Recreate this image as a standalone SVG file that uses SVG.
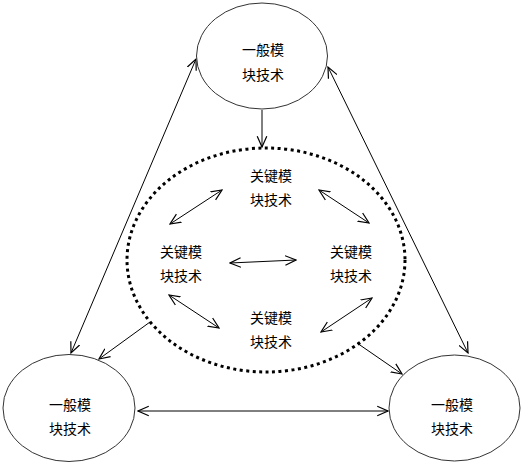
<svg xmlns="http://www.w3.org/2000/svg" width="529" height="464" viewBox="0 0 529 464">
<style>
.node{fill:#fff;stroke:#333;stroke-width:1}
.t{font-family:"Noto Sans CJK SC","Noto Sans",sans-serif;font-size:14px;fill:#000;text-anchor:middle}
.c{stroke:#000;stroke-width:1;fill:none}
.d{marker-start:url(#ah);marker-end:url(#ah)}
.s{marker-end:url(#ah)}
</style>
<defs>
<marker id="ah" markerUnits="userSpaceOnUse" markerWidth="12" markerHeight="12" refX="9" refY="5" orient="auto-start-reverse" viewBox="0 0 10 10">
<path d="M0,1 L9,5 L0,9" fill="none" stroke="#000" stroke-width="1"/>
</marker>
</defs>
<g id="core">
<ellipse cx="266" cy="260" rx="139" ry="112" fill="none" stroke="#000" stroke-width="3" stroke-dasharray="3 3.5"/>
</g>
<g id="connectors">
<line class="c s" x1="262" y1="110" x2="262" y2="147"/>
<line class="c d" x1="196" y1="59" x2="71" y2="353"/>
<line class="c d" x1="328" y1="67" x2="468" y2="353"/>
<line class="c d" x1="138" y1="411" x2="388" y2="411"/>
<line class="c s" x1="150" y1="322" x2="99" y2="359"/>
<line class="c s" x1="357" y1="343" x2="402" y2="374"/>
<line class="c d" x1="170" y1="224" x2="222" y2="190"/>
<line class="c d" x1="319" y1="190" x2="369" y2="223"/>
<line class="c d" x1="230" y1="263" x2="296" y2="260"/>
<line class="c d" x1="169" y1="295" x2="219" y2="328"/>
<line class="c d" x1="321" y1="332" x2="372" y2="298"/>
</g>
<g id="general-top">
<ellipse class="node" cx="262" cy="56" rx="65.5" ry="53"/>
<text class="t" x="263" y="55">一般模</text>
<text class="t" x="263" y="80">块技术</text>
</g>
<g id="general-left">
<ellipse class="node" cx="69" cy="408" rx="66" ry="53.5"/>
<text class="t" x="70" y="410">一般模</text>
<text class="t" x="70" y="434">块技术</text>
</g>
<g id="general-right">
<ellipse class="node" cx="454.5" cy="408" rx="65.5" ry="53"/>
<text class="t" x="452" y="410">一般模</text>
<text class="t" x="452" y="434">块技术</text>
</g>
<g id="key-top">
<text class="t" x="271" y="181">关键模</text>
<text class="t" x="271" y="205">块技术</text>
</g>
<g id="key-left">
<text class="t" x="181" y="257">关键模</text>
<text class="t" x="181" y="281">块技术</text>
</g>
<g id="key-right">
<text class="t" x="351" y="257">关键模</text>
<text class="t" x="351" y="281">块技术</text>
</g>
<g id="key-bottom">
<text class="t" x="271" y="323">关键模</text>
<text class="t" x="271" y="347">块技术</text>
</g>
</svg>
